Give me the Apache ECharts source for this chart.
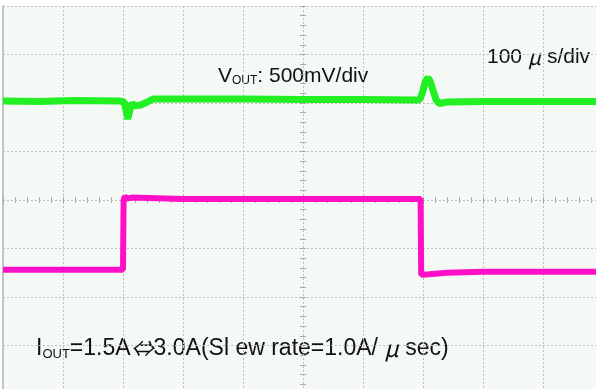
<!DOCTYPE html>
<html>
<head>
<meta charset="utf-8">
<script src="https://cdn.jsdelivr.net/npm/echarts@6/dist/echarts.min.js"></script>
<style>
  html, body { margin: 0; padding: 0; background: #fff; }
  #chart { width: 596px; height: 389px; }
</style>
</head>
<body>
<div id="chart"></div>
<script>
// time in µs (100 µs/div), levels in divisions from the bottom of the screen
const vTime = [0, 60, 120, 195, 202, 205, 208, 211, 215, 219, 222, 230, 240, 250, 300, 400, 500, 600, 690, 695, 700, 704, 708, 712, 717, 722, 727, 740, 800, 1000]
const vOut = [6.04, 6.03, 6.05, 6.04, 6.02, 5.85, 5.67, 5.82, 6.0, 5.94, 5.92, 5.96, 6.02, 6.08, 6.08, 6.08, 6.07, 6.07, 6.06, 6.08, 6.25, 6.45, 6.52, 6.45, 6.25, 6.06, 5.99, 6.02, 6.03, 6.03]

const iTime = [0, 200, 201, 203, 207, 215, 300, 500, 696, 697, 710, 740, 800, 1000]
const iOut = [2.56, 2.56, 4.0, 4.07, 4.03, 4.05, 4.02, 4.02, 4.02, 2.46, 2.47, 2.5, 2.52, 2.52]

const zip = (t, v) => t.map((x, i) => [x, v[i]])

const gridColor = '#bfbfbf'
const latin = 'Liberation Sans'
const cjk = 'Noto Sans CJK JP'

// little tick axes drawn through the centre of the screen
const centreX = inside => ({
  type: 'value', min: 0, max: 1000, interval: 20,
  position: 'bottom', offset: -194,
  axisLine: { show: false },
  axisTick: { show: true, inside: inside, length: 3, lineStyle: { color: '#aaa' } },
  axisLabel: { show: false },
  splitLine: { show: false },
})
const centreY = inside => ({
  type: 'value', min: 0, max: 8, interval: 0.2,
  position: 'left', offset: -300,
  axisLine: { show: false },
  axisTick: { show: true, inside: inside, length: 3, lineStyle: { color: '#aaa' } },
  axisLabel: { show: false },
  splitLine: { show: false },
})

const options = {
  backgroundColor: '#fff',
  animation: false,
  grid: {
    left: 3, top: 6, width: 600, height: 388,
    outerBoundsMode: 'none',
    show: true, backgroundColor: '#f4f9f6', borderWidth: 0,
  },
  xAxis: [
    {
      type: 'value', min: 0, max: 1000, interval: 100,
      position: 'top',
      axisLine: { show: true, lineStyle: { color: '#cfcfcf', width: 1 } },
      axisTick: { show: false },
      axisLabel: { show: false },
      splitLine: { show: true, lineStyle: { color: gridColor, type: [2, 2], width: 1 } },
    },
    centreX(true),
    centreX(false),
  ],
  yAxis: [
    {
      type: 'value', min: 0, max: 8, interval: 1,
      position: 'left',
      axisLine: { show: true, lineStyle: { color: '#c4c4c4', width: 2 } },
      axisTick: { show: false },
      axisLabel: { show: false },
      splitLine: { show: true, lineStyle: { color: gridColor, type: [2, 2], width: 1 } },
    },
    centreY(true),
    centreY(false),
  ],
  series: [
    {
      name: 'VOUT',
      type: 'line',
      data: zip(vTime, vOut),
      showSymbol: false,
      smooth: false,
      lineStyle: { color: '#22f022', width: 7 },
      itemStyle: { color: '#22f022' },
    },
    {
      name: 'IOUT',
      type: 'line',
      data: zip(iTime, iOut),
      showSymbol: false,
      lineStyle: { color: '#ff10c8', width: 6 },
      itemStyle: { color: '#ff10c8' },
    },
  ],
  graphic: [
    {
      type: 'text', left: 218, top: 66,
      style: {
        text: '{a|V}{b|OUT}{a|: 500mV/div}',
        fill: '#111',
        rich: {
          a: { fontFamily: latin, fontSize: 21, fill: '#111' },
          b: { fontFamily: latin, fontSize: 12, fill: '#111', padding: [9, 0, 0, 0] },
        },
      },
    },
    {
      type: 'text', left: 487, top: 47,
      style: {
        text: '{a|100 }{c|μ}{a| s/div}',
        fill: '#111',
        rich: {
          a: { fontFamily: latin, fontSize: 21, fill: '#111' },
          c: { fontFamily: cjk, fontSize: 21, fontStyle: 'italic', fill: '#111' },
        },
      },
    },
    {
      type: 'text', left: 36, top: 337,
      style: {
        text: '{a|I}{b|OUT}{a|=1.5A}{c|⇔}{a|3.0A(Sl ew rate=1.0A/ }{c|μ}{a| sec)}',
        fill: '#111',
        rich: {
          a: { fontFamily: latin, fontSize: 23, fill: '#111' },
          b: { fontFamily: latin, fontSize: 13, fill: '#111', padding: [11, 0, 0, 0] },
          c: { fontFamily: cjk, fontSize: 23, fontStyle: 'italic', fill: '#111' },
        },
      },
    },
  ],
}

const chart = echarts.init(document.getElementById('chart'))
chart.setOption(options)
window.onresize = function () {
  chart.resize()
}
</script>
</body>
</html>
